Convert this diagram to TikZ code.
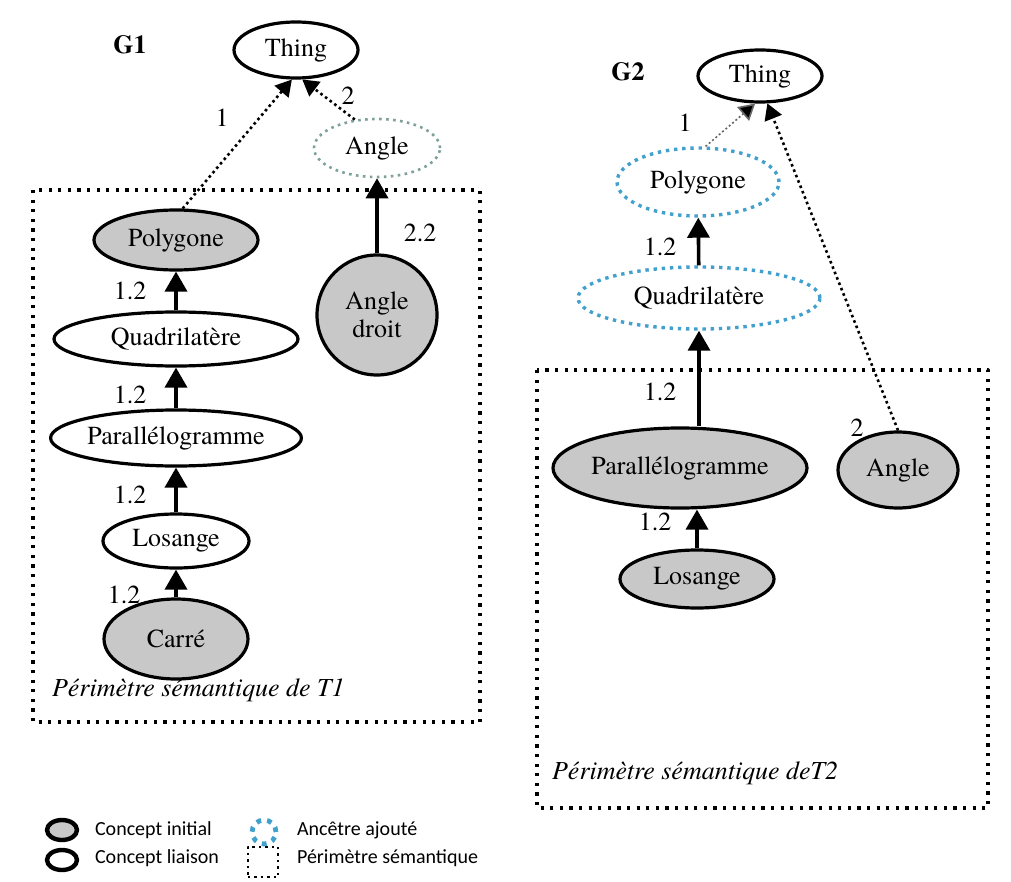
\documentclass[tikz,border=0pt]{standalone}
\usepackage{fontspec}
\setmainfont{texgyretermes}[Extension=.otf, UprightFont=*-regular, BoldFont=*-bold, ItalicFont=*-italic, BoldItalicFont=*-bolditalic]
\newfontfamily\legendfont{Carlito}
\usetikzlibrary{shapes.geometric,arrows.meta}
\definecolor{ancetre}{RGB}{66,160,204}
\definecolor{grisvert}{RGB}{125,160,155}
\definecolor{initial}{RGB}{200,200,200}
\newcommand{\textegraphe}{\rmfamily\mdseries\upshape\fontsize{13}{14}\selectfont}
\begin{document}
\begin{tikzpicture}[x=0.5pt, y=-0.5pt, line join=round,
		every node/.style={font=\textegraphe},
		concept/.style={ellipse, draw, line width=1.6pt, inner sep=0pt},
		initial/.style={concept, fill=initial},
		ajoute/.style={ellipse, draw=ancetre, line width=1.7pt, dash pattern=on 1.7pt off 2.4pt, inner sep=0pt},
		isa/.style={line width=1.8pt, -{Triangle[width=11pt,length=10pt]}},
		lien/.style={line width=1.3pt, dash pattern=on 1.3pt off 1.6pt, -{Triangle[width=9pt,length=8pt]}},
		perimetre/.style={line width=1.6pt, dash pattern=on 1.6pt off 3.2pt},
		titre/.style={font=\textegraphe\bfseries},
		cadre/.style={anchor=west, font=\textegraphe\itshape},
		legende/.style={anchor=west, font=\legendfont\fontsize{10}{12}\selectfont},
		lbl/.style={inner sep=0pt}]
	\useasboundingbox (0,0) rectangle (1011,882);
	% G1
	\node[titre] (g1) at (130,45) {G1};
	\node[concept, minimum width=62pt, minimum height=28pt] (thing1) at (296,50) {Thing};
	\node[ajoute, draw=grisvert, line width=1.3pt, dash pattern=on 1.3pt off 2.2pt, minimum width=63pt, minimum height=29pt] (angle1) at (377,148) {Angle};
	\draw[perimetre] (33,190) rectangle (480,722);
	\node[initial, minimum width=82pt, minimum height=30pt] (poly1) at (176,240) {Polygone};
	\node[concept, minimum width=122pt, minimum height=27pt] (quad1) at (176,339) {Quadrilatère};
	\node[concept, minimum width=122pt, minimum height=28pt] (para1) at (176,438) {Parallélogramme};
	\node[concept, minimum width=73pt, minimum height=27pt] (los1) at (176,541) {Losange};
	\node[initial, minimum width=72pt, minimum height=40pt] (carre1) at (176,639) {Carré};
	\node[initial, circle, minimum size=60pt, align=center] (droit1) at (377,315) {Angle\\droit};
	\node[cadre] (peri1) at (45,690) {Périmètre sémantique de T1};
	\draw[isa] (quad1) -- (poly1);
	\draw[isa] (para1) -- (quad1);
	\draw[isa] (los1) -- (para1);
	\draw[isa] (carre1) -- (los1);
	\draw[isa] (droit1) -- (angle1);
	\draw[lien] (poly1.78) -- (thing1.-98);
	\draw[lien] (angle1.128) -- (thing1.-78);
	\node[lbl] (l1a) at (130,291) {1.2};
	\node[lbl] (l1b) at (130,395) {1.2};
	\node[lbl] (l1c) at (130,495) {1.2};
	\node[lbl] (l1d) at (124,595) {1.2};
	\node[lbl] (l1e) at (420,233) {2.2};
	\node[lbl] (l1f) at (222,118) {1};
	\node[lbl] (l1g) at (348,96) {2};
	% G2
	\node[titre] (g2) at (628,72) {G2};
	\node[concept, minimum width=62pt, minimum height=26pt] (thing2) at (760,76) {Thing};
	\node[ajoute, minimum width=81pt, minimum height=34pt] (poly2) at (698,182) {Polygone};
	\node[ajoute, minimum width=121pt, minimum height=31pt] (quad2) at (699,298) {Quadrilatère};
	\draw[perimetre] (537,370) rectangle (988,808);
	\node[initial, minimum width=127pt, minimum height=40pt] (para2) at (680,468) {Parallélogramme};
	\node[initial, minimum width=60pt, minimum height=38pt] (angle2) at (898,470) {Angle};
	\node[initial, minimum width=77pt, minimum height=29pt] (los2) at (697,579) {Losange};
	\node[cadre] (peri2) at (545,773) {Périmètre sémantique deT2};
	\draw[isa] (quad2) -- (poly2);
	\draw[isa] (quad2.south |- para2.north) -- (quad2.south);
	\draw[isa] (los2.north) -- (los2.north |- para2.south);
	\draw[lien, line width=0.8pt, draw=black!60, dash pattern=on 1pt off 1.2pt, -{Triangle[width=9pt,length=8pt,fill=black]}] (poly2.78) -- (thing2.-100);
	\draw[lien] (angle2.north) -- (thing2.-75);
	\node[lbl] (l2a) at (660,247) {1.2};
	\node[lbl] (l2b) at (660,392) {1.2};
	\node[lbl] (l2c) at (655,522) {1.2};
	\node[lbl] (l2d) at (857,428) {2};
	\node[lbl] (l2e) at (685,123) {1};
	% legende
	\node[initial, line width=2.2pt, minimum width=15pt, minimum height=10pt] (leginit) at (62,830) {};
	\node[concept, line width=2.2pt, minimum width=15pt, minimum height=10pt] (legliai) at (62,860) {};
	\node[ajoute, circle, line width=2.4pt, dash pattern=on 2.4pt off 3pt, minimum size=12pt] (legajout) at (264,832) {};
	\node[draw, perimetre, line width=1.2pt, dash pattern=on 1.2pt off 2pt, minimum size=15pt] (legperi) at (263,862) {};
	\node[legende] (txinit) at (88,830) {Concept initial};
	\node[legende] (txliai) at (88,858) {Concept liaison};
	\node[legende] (txajout) at (290,830) {Ancêtre ajouté};
	\node[legende] (txperi) at (290,858) {Périmètre sémantique};
\end{tikzpicture}
\end{document}
